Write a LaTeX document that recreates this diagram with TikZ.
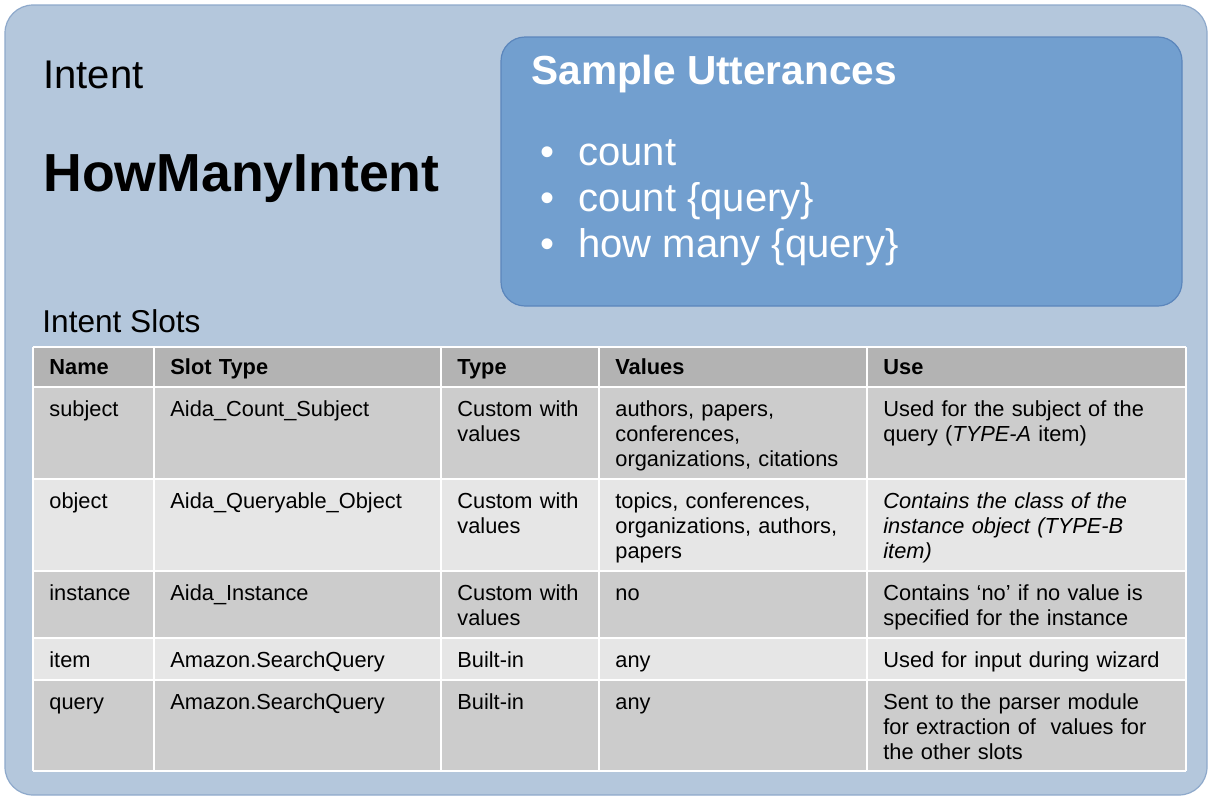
\documentclass[tikz,border=0pt]{standalone}
\usepackage{fontspec}
\setmainfont{Liberation Sans}

\definecolor{slotbg}{HTML}{B4C7DC}
\definecolor{slotline}{HTML}{8EA9CB}
\definecolor{uttbg}{HTML}{729FCF}
\definecolor{uttline}{HTML}{5B86BC}
\definecolor{hdrgray}{HTML}{B3B3B3}
\definecolor{darkrow}{HTML}{CCCCCC}
\definecolor{lightrow}{HTML}{E6E6E6}

\begin{document}
\begin{tikzpicture}[x=0.5pt, y=-0.5pt, every node/.style={inner sep=0pt},
    title/.style={anchor=base west},
    cell/.style={anchor=north west, text width=150pt, align=left,
      font=\fontsize{10.9}{12.5}\selectfont,
      execute at begin node=\rule{0pt}{9pt}},
    hcell/.style={cell, font=\fontsize{10.9}{12.5}\selectfont\bfseries},
    gridline/.style={white, line width=1pt}]
  \useasboundingbox (0,0) rectangle (1210,798);

  % Panels
  \draw[slotline, fill=slotbg, line width=0.6pt, rounded corners=14pt] (5,5) rectangle (1207,795);
  \draw[uttline, fill=uttbg, line width=0.6pt, rounded corners=12pt] (501,37) rectangle (1182,306);

  % Intent name
  \node[title, font=\fontsize{20}{24}\selectfont] (intentlbl) at (43,88) {Intent};
  \node[title, font=\fontsize{26.8}{32}\selectfont\bfseries] (intentname) at (43,191) {HowManyIntent};

  % Sample utterances
  \node[title, white, font=\fontsize{20.3}{24}\selectfont\bfseries] (utttitle) at (531,84) {Sample Utterances};
  \foreach \y/\t [count=\i] in {165/count, 211/{count \{query\}}, 257/{how many \{query\}}} {
    \node[anchor=base, white, font=\fontsize{20}{23}\selectfont] (bul\i) at (547,\y) {•};
    \node[title, white, font=\fontsize{20}{23}\selectfont] (utt\i) at (578,\y) {\t};
  }

  % Intent slots table
  \node[title, font=\fontsize{15.8}{19}\selectfont] (slotslbl) at (42,332) {Intent Slots};
  \fill[hdrgray] (33,347) rectangle (1186,387);
  \fill[darkrow] (33,387) rectangle (1186,479);
  \fill[lightrow] (33,479) rectangle (1186,571);
  \fill[darkrow] (33,571) rectangle (1186,638);
  \fill[lightrow] (33,638) rectangle (1186,680);
  \fill[darkrow] (33,680) rectangle (1186,771);
  \foreach \y in {347,387,479,571,638,680,771}
    \draw[gridline] (33,\y) -- (1186,\y);
  \foreach \x in {33,154,441,599,867,1186}
    \draw[gridline] (\x,347) -- (\x,771);

  \foreach \x/\t [count=\i] in {33/Name, 154/Slot Type, 441/Type, 599/Values, 867/Use}
    \node[hcell] (hd\i) at (\x+16,356.5) {\t};

  \foreach \y/\a/\b/\c/\d/\e [count=\r] in {
    387/subject/Aida\_Count\_Subject/{Custom with\\values}/{authors, papers,\\conferences,\\organizations, citations}/{Used for the subject of the\\query (\textit{TYPE-A} item)},
    479/object/Aida\_Queryable\_Object/{Custom with\\values}/{topics, conferences,\\organizations, authors,\\papers}/{\textit{Contains the class of the\\instance object (TYPE-B\\item)}},
    571/instance/Aida\_Instance/{Custom with\\values}/no/{Contains ‘no’ if no value is\\specified for the instance},
    638/item/Amazon.SearchQuery/Built-in/any/{Used for input during wizard},
    680/query/Amazon.SearchQuery/Built-in/any/{Sent to the parser module\\for extraction of\ \ values for\\the other slots}} {
    \node[cell] (r\r-1) at (49,\y+11) {\a};
    \node[cell] (r\r-2) at (170,\y+11) {\b};
    \node[cell] (r\r-3) at (457,\y+11) {\c};
    \node[cell] (r\r-4) at (615,\y+11) {\d};
    \node[cell] (r\r-5) at (883,\y+11) {\e};
  }
\end{tikzpicture}
\end{document}
